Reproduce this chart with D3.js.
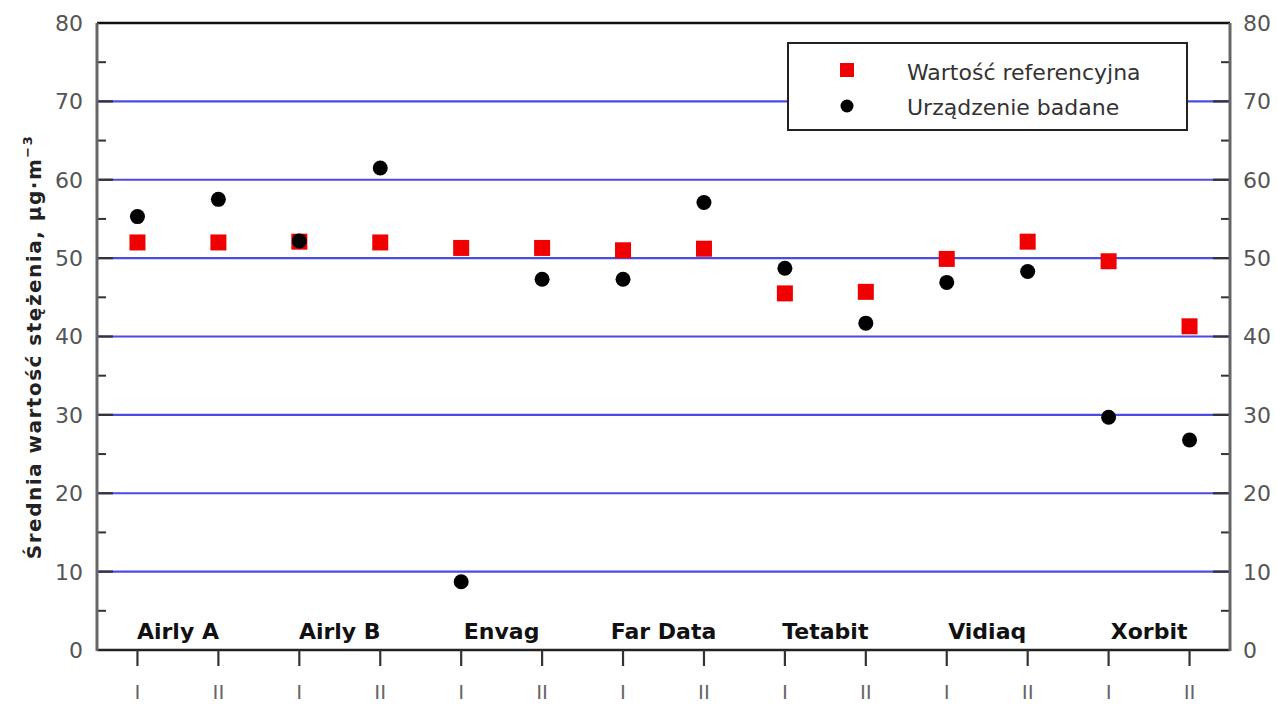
<!DOCTYPE html>
<html><head><meta charset="utf-8">
<script src="https://cdn.jsdelivr.net/npm/d3@7"></script>
<style>body{margin:0;background:#fff;}svg{display:block;}</style>
</head><body>
<script>
const groups = ["Airly A","Airly B","Envag","Far Data","Tetabit","Vidiaq","Xorbit"];
const runs = ["I","II"];
const referenceValues = [52.0,52.0, 52.1,52.0, 51.3,51.3, 51.0,51.2, 45.5,45.7, 49.9,52.1, 49.6,41.3];
const deviceValues   = [55.3,57.5, 52.2,61.5, 8.7,47.3, 47.3,57.1, 48.7,41.7, 46.9,48.3, 29.7,26.8];
const yTicks = [0,10,20,30,40,50,60,70,80];
const legendLabels = ["Wartość referencyjna","Urządzenie badane"];
const yTitle = "Średnia wartość stężenia, µg·m";

const W=1277,H=704, L=97, R=1230, T=23, B=650;
const svg=d3.select("body").append("svg").attr("width",W).attr("height",H);
const keys=[]; groups.forEach(g=>runs.forEach(r=>keys.push(g+"|"+r)));
const x=d3.scalePoint().domain(keys).range([L,R]).padding(0.5);
const y=d3.scaleLinear().domain([0,80]).range([B,T]);
const font="DejaVu Sans, sans-serif";

// gridlines
svg.append("g").selectAll("line").data(yTicks.filter(v=>v>0&&v<80)).join("line")
  .attr("x1",L).attr("x2",R).attr("y1",d=>y(d)).attr("y2",d=>y(d))
  .attr("stroke","#4b4be6").attr("stroke-width",2.2);

// inner ticks left & right
const minor=d3.range(5,80,10);
const tg=svg.append("g").attr("stroke","#333");
tg.selectAll(".ml").data(yTicks.filter(v=>v>0&&v<80)).join("line").attr("x1",L).attr("x2",L+16).attr("y1",d=>y(d)).attr("y2",d=>y(d)).attr("stroke-width",2.2);
tg.selectAll(".mr").data(yTicks.filter(v=>v>0&&v<80)).join("line").attr("x1",R-17).attr("x2",R).attr("y1",d=>y(d)).attr("y2",d=>y(d)).attr("stroke-width",2.2);
tg.selectAll(".nl").data(minor).join("line").attr("x1",L).attr("x2",L+9).attr("y1",d=>y(d)).attr("y2",d=>y(d)).attr("stroke-width",2);
tg.selectAll(".nr").data(minor).join("line").attr("x1",R-9).attr("x2",R).attr("y1",d=>y(d)).attr("y2",d=>y(d)).attr("stroke-width",2);

// frame
svg.append("line").attr("x1",L).attr("x2",R).attr("y1",T).attr("y2",T).attr("stroke","#111").attr("stroke-width",2.5);
svg.append("line").attr("x1",L).attr("x2",R).attr("y1",B).attr("y2",B).attr("stroke","#222").attr("stroke-width",2.5);
svg.append("line").attr("x1",L).attr("x2",L).attr("y1",T).attr("y2",B+1).attr("stroke","#666").attr("stroke-width",3);
svg.append("line").attr("x1",R).attr("x2",R).attr("y1",T).attr("y2",B+1).attr("stroke","#666").attr("stroke-width",3);

// y tick labels
svg.append("g").selectAll("text").data(yTicks).join("text")
  .attr("x",L-14).attr("y",d=>y(d)).attr("dy","0.36em").attr("text-anchor","end")
  .attr("font-family",font).attr("font-size",22).attr("fill","#555").text(d=>d);
svg.append("g").selectAll("text").data(yTicks).join("text")
  .attr("x",R+13).attr("y",d=>y(d)).attr("dy","0.36em").attr("text-anchor","start")
  .attr("font-family",font).attr("font-size",22).attr("fill","#555").text(d=>d);

// x ticks
svg.append("g").selectAll("line").data(keys).join("line")
  .attr("x1",d=>x(d)).attr("x2",d=>x(d)).attr("y1",B).attr("y2",B+16).attr("stroke","#333").attr("stroke-width",2.2);
svg.append("g").selectAll("text").data(keys).join("text")
  .attr("x",d=>x(d)).attr("y",699).attr("text-anchor","middle")
  .attr("font-family",font).attr("font-size",20).attr("fill","#666").text(d=>d.split("|")[1]);

// group labels
svg.append("g").selectAll("text").data(groups).join("text")
  .attr("x",g=>(x(g+"|I")+x(g+"|II"))/2).attr("y",639).attr("text-anchor","middle")
  .attr("font-family",font).attr("font-weight","bold").attr("font-size",22).attr("fill","#111").text(g=>g);

// y title
const yt=svg.append("text").attr("transform","translate(41,347) rotate(-90)")
  .attr("text-anchor","middle").attr("font-family",font).attr("font-weight","bold").attr("font-size",20)
  .attr("letter-spacing",1.5).attr("fill","#222");
yt.append("tspan").text(yTitle);
yt.append("tspan").attr("dy",-9).attr("font-size",13).text("−3");

// markers
const ms=16;
svg.append("g").selectAll("rect").data(referenceValues).join("rect")
  .attr("x",(d,i)=>x(keys[i])-ms/2).attr("y",d=>y(d)-ms/2).attr("width",ms).attr("height",ms).attr("fill","#f00000");
svg.append("g").selectAll("circle").data(deviceValues).join("circle")
  .attr("cx",(d,i)=>x(keys[i])).attr("cy",d=>y(d)).attr("r",7.5).attr("fill","#000");

// legend
const lg=svg.append("g");
lg.append("rect").attr("x",788).attr("y",43).attr("width",399).attr("height",87).attr("fill","#fff").attr("stroke","#222").attr("stroke-width",2);
lg.append("rect").attr("x",847-7).attr("y",70-7).attr("width",14).attr("height",14).attr("fill","#f00000");
lg.append("circle").attr("cx",847).attr("cy",106).attr("r",6.5).attr("fill","#000");
lg.selectAll("text").data(legendLabels).join("text")
  .attr("x",907).attr("y",(d,i)=>72+i*35).attr("dy","0.36em")
  .attr("font-family",font).attr("font-size",22).attr("fill","#333").text(d=>d);
</script>
</body></html>
